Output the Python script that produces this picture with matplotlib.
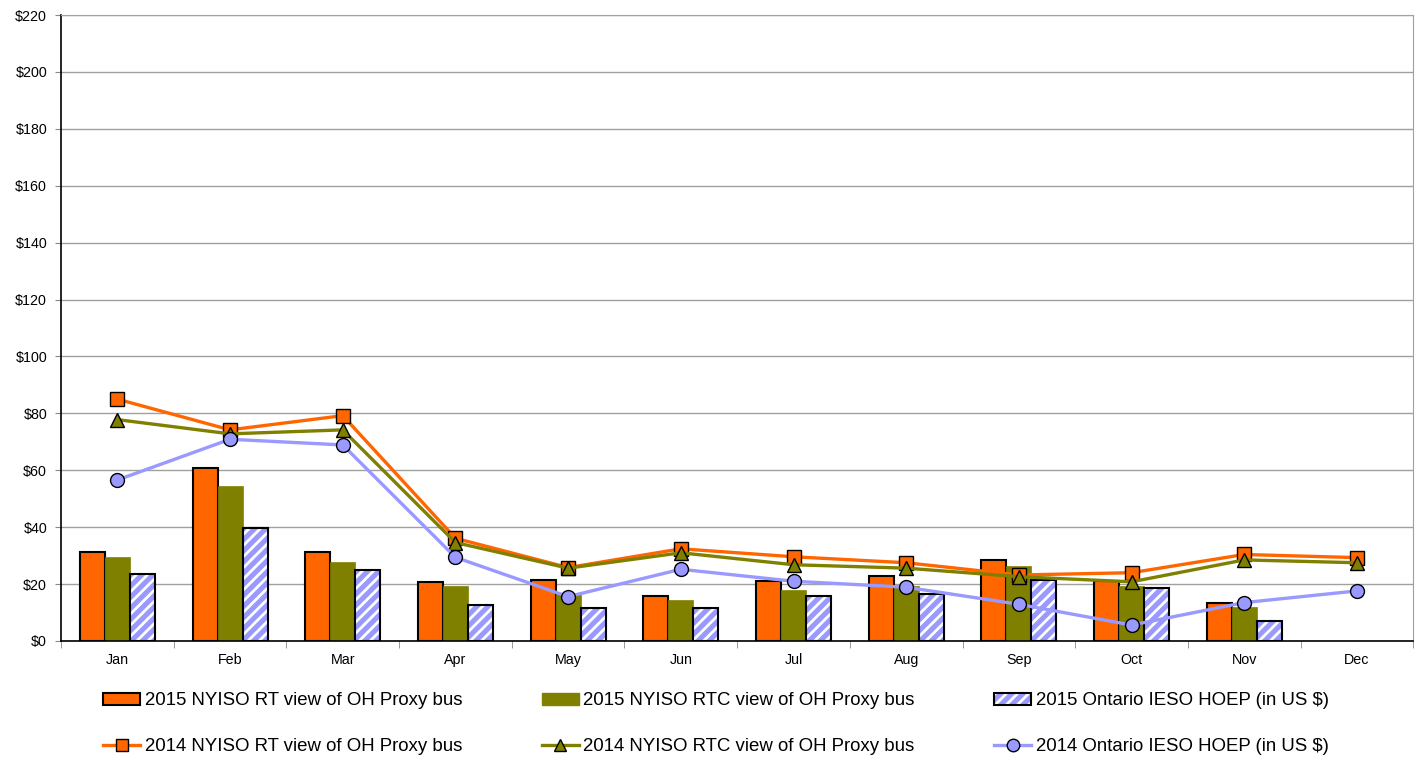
import matplotlib
matplotlib.use('Agg')
import matplotlib.pyplot as plt
from matplotlib.patches import Patch
from matplotlib.lines import Line2D
from matplotlib.legend_handler import HandlerTuple
import numpy as np

plt.rcParams.update({
    "font.family": ["Liberation Sans", "DejaVu Sans"],
    "font.size": 10.3,
    "hatch.linewidth": 2.0,
})

months = ['Jan', 'Feb', 'Mar', 'Apr', 'May', 'Jun', 'Jul', 'Aug', 'Sep', 'Oct', 'Nov', 'Dec']

# 2015 bars (Dec not yet available)
rt_2015 = [31.2, 60.9, 31.4, 20.7, 21.6, 15.9, 21.0, 22.7, 28.4, 21.1, 13.5, np.nan]
rtc_2015 = [29.6, 54.6, 27.9, 19.4, 16.5, 14.4, 17.9, 19.5, 26.4, 19.3, 11.8, np.nan]
hoep_2015 = [23.7, 39.7, 25.1, 12.8, 11.6, 11.5, 15.8, 16.6, 21.5, 18.5, 7.1, np.nan]

# 2014 lines
rt_2014 = [85.0, 74.2, 79.2, 36.1, 25.8, 32.4, 29.6, 27.5, 23.2, 24.0, 30.4, 29.3]
rtc_2014 = [77.8, 72.8, 74.2, 34.6, 25.6, 31.0, 26.8, 25.6, 22.6, 20.8, 28.5, 27.5]
hoep_2014 = [56.6, 70.9, 68.9, 29.4, 15.6, 25.2, 21.0, 18.9, 12.9, 5.6, 13.5, 17.6]

ORANGE = '#FF6600'
OLIVE = '#808000'
LAVENDER = '#9999FF'

fig = plt.figure(figsize=(14.16, 7.62), dpi=100)
ax = fig.add_axes([0.0431, 0.1588, 0.955, 0.8215])

x = np.arange(len(months))
w = 0.222

ax.bar(x - w, rt_2015, w, color=ORANGE, edgecolor='black', linewidth=1.5, zorder=2)
ax.bar(x, rtc_2015, w, color=OLIVE, edgecolor=OLIVE, linewidth=0.5, zorder=2)
# hatched bar: white stripes, then black outline on top
ax.bar(x + w, hoep_2015, w, color=LAVENDER, edgecolor='white', hatch='///', linewidth=0, zorder=2)
ax.bar(x + w, hoep_2015, w, fill=False, edgecolor='black', linewidth=1.5, zorder=2)

mk = dict(markersize=10, markeredgecolor='black', markeredgewidth=1.0, linewidth=2.4, zorder=3)
ax.plot(x, rt_2014, color=ORANGE, marker='s', markerfacecolor=ORANGE, **mk)
ax.plot(x, rtc_2014, color=OLIVE, marker='^', markerfacecolor=OLIVE, **mk)
ax.plot(x, hoep_2014, color=LAVENDER, marker='o', markerfacecolor=LAVENDER, **mk)

ax.set_xlim(-0.5, 11.5)
ax.set_ylim(0, 220)
ax.set_yticks(np.arange(0, 221, 20))
ax.set_yticklabels([f'${v}' for v in range(0, 221, 20)])
ax.set_xticks(x)
ax.set_xticklabels(months)
ax.tick_params(axis='x', length=0, pad=8.5)
ax.set_xticks(np.arange(-0.5, 12, 1), minor=True)
ax.tick_params(axis='x', which='minor', length=5, color='#888888')
ax.tick_params(axis='y', length=4, color='#888888', pad=6)
ax.yaxis.grid(True, color='#A0A0A0', linewidth=1.0, zorder=0)
ax.set_axisbelow(True)
for side in ['left', 'bottom']:
    ax.spines[side].set_color('black')
    ax.spines[side].set_linewidth(1.2)
for side in ['top', 'right']:
    ax.spines[side].set_color('#A0A0A0')

# legend
h_rt15 = Patch(facecolor=ORANGE, edgecolor='black', linewidth=1.5)
h_rtc15 = Patch(facecolor=OLIVE, edgecolor=OLIVE)
h_hoep15 = (Patch(facecolor=LAVENDER, edgecolor='white', hatch='///', linewidth=0),
            Patch(fill=False, edgecolor='black', linewidth=1.5))
h_rt14 = Line2D([], [], color=ORANGE, marker='s', markerfacecolor=ORANGE, markeredgecolor='black', markersize=9, linewidth=2.4)
h_rtc14 = Line2D([], [], color=OLIVE, marker='^', markerfacecolor=OLIVE, markeredgecolor='black', markersize=9, linewidth=2.4)
h_hoep14 = Line2D([], [], color=LAVENDER, marker='o', markerfacecolor=LAVENDER, markeredgecolor='black', markersize=9, linewidth=2.4)

handles = [h_rt15, h_rt14, h_rtc15, h_rtc14, h_hoep15, h_hoep14]
labels = ['2015 NYISO RT view of OH Proxy bus', '2014 NYISO RT view of OH Proxy bus',
          '2015 NYISO RTC view of OH Proxy bus', '2014 NYISO RTC view of OH Proxy bus',
          '2015 Ontario IESO HOEP (in US $)', '2014 Ontario IESO HOEP (in US $)']
fig.legend(handles, labels, ncol=3, loc='lower left', bbox_to_anchor=(0.061, -0.013),
           frameon=False, fontsize=13.4, handlelength=2.0, handleheight=0.65,
           handletextpad=0.25, columnspacing=4.25, labelspacing=1.55,
           handler_map={tuple: HandlerTuple(ndivide=1)})

fig.savefig('out.png', dpi=100, facecolor='white')
